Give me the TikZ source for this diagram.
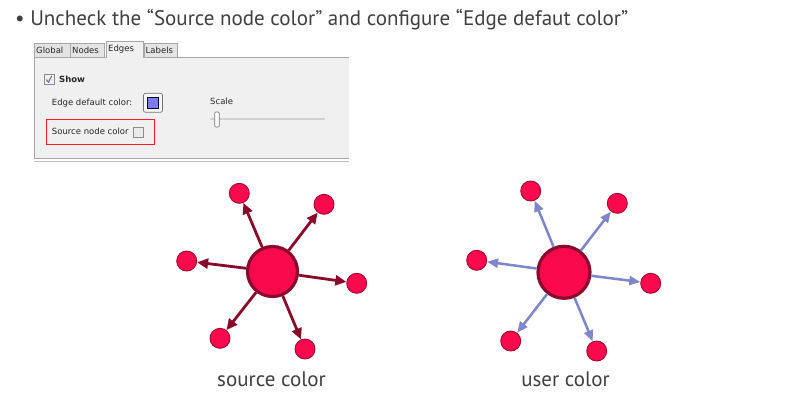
\documentclass[tikz,border=0pt]{standalone}
\usepackage{fontspec}
\setmainfont{PT Sans}
\newfontfamily\uifont{DejaVu Sans}
\usetikzlibrary{arrows.meta}
\definecolor{titlegray}{HTML}{404040}
\definecolor{nodefill}{HTML}{FA0A4C}
\definecolor{bigstroke}{HTML}{8C0A2D}
\definecolor{smallstroke}{HTML}{A00A32}
\definecolor{srcedge}{HTML}{8A0A2A}
\definecolor{useredge}{HTML}{7E86CE}
\definecolor{panelbg}{HTML}{F0F0F0}
\definecolor{tabbg}{HTML}{E4E4E4}
\definecolor{panelline}{HTML}{A8A8A8}
\definecolor{boxred}{HTML}{FF2020}
\definecolor{swatch}{HTML}{7A7EF0}
\tikzset{
  bignode/.style={circle, draw=bigstroke, line width=3.2pt, fill=nodefill, minimum size=50pt, inner sep=0pt},
  smallnode/.style={circle, draw=smallstroke, line width=0.9pt, fill=nodefill, minimum size=20pt, inner sep=0pt},
  srcarrow/.style={draw=srcedge, line width=2.8pt, -{Triangle[length=11pt,width=10pt]}},
  userarrow/.style={draw=useredge, line width=2.5pt, -{Triangle[length=11pt,width=9pt]}},
  tabstyle/.style={draw=panelline, fill=tabbg, line width=0.6pt},
  uitext/.style={font=\uifont\fontsize{8.5}{9}\selectfont, text=black!85, inner sep=0pt, anchor=west},
  caption/.style={font=\fontsize{21}{24}\selectfont, text=titlegray, inner sep=0pt}
}
\begin{document}
\begin{tikzpicture}[x=1pt, y=-1pt]
\useasboundingbox (0,0) rectangle (799,405);
\fill[white] (0,0) rectangle (799,405);

% title
\node[caption, anchor=west] (title) at (15,20) {\textbullet\ Uncheck the “Source node color” and configure “Edge defaut color”};

% panel
\fill[panelbg] (34,57) rectangle (349,158);
\draw[panelline, line width=0.6pt] (34,158) -- (34,57) -- (349,57);
\draw[panelline, line width=1pt] (34,158) -- (349,158);
\draw[black!25, line width=1pt] (34,161) -- (349,161);
\draw[tabstyle] (34,57) -- (34,43) -- (70,43) -- (70,57);
\draw[tabstyle] (70.5,57) -- (70.5,43) -- (104.5,43) -- (104.5,57);
\draw[tabstyle] (144,57) -- (144,43) -- (177,43) -- (177,57);
\filldraw[draw=panelline, fill=panelbg, line width=0.6pt] (106,58) -- (106,41.5) -- (143.5,41.5) -- (143.5,58);
\node[uitext] (tglobal) at (36,50.5) {Global};
\node[uitext] (tnodes) at (72,50.5) {Nodes};
\node[uitext] (tedges) at (108,49.5) {Edges};
\node[uitext] (tlabels) at (145.5,50.5) {Labels};

% show checkbox
\node[draw=black!45, fill=black!6, minimum size=10pt, inner sep=0pt, line width=0.6pt] (showbox) at (49,79.3) {};
\draw[black!55!blue!60, line width=1pt] (46.3,79.5) -- (48.5,82.3) -- (51.8,75.8);
\node[uitext, font=\uifont\bfseries\fontsize{8.5}{9}\selectfont] (showtxt) at (59,79.3) {Show};

% edge default color
\node[uitext] (edgetxt) at (51.7,103) {Edge default color:};
\node[draw=black!55, fill=black!4, rounded corners=2pt, minimum width=19pt, minimum height=19pt, inner sep=0pt, line width=0.7pt] (colbtn) at (153,102.8) {};
\node[draw=black!80!blue, fill=swatch, minimum size=11pt, inner sep=0pt, line width=0.7pt] (swatchbox) at (153,102.8) {};

% scale slider
\node[uitext] (scaletxt) at (210,101.5) {Scale};
\draw[black!18, line width=2pt] (210,118.5) -- (325,118.5);
\node[draw=black!55, fill=white, rounded corners=1pt, minimum width=4.5pt, minimum height=15pt, inner sep=0pt, line width=0.6pt] (knob) at (217,119.5) {};

% source node color
\node[draw=boxred, line width=0.9pt, minimum width=107.6pt, minimum height=25pt, inner sep=0pt] (redbox) at (100.5,131.5) {};
\node[uitext] (srctxt) at (51.7,131.5) {Source node color};
\node[draw=black!45, fill=black!8, minimum size=10pt, inner sep=0pt, line width=0.6pt] (srcbox) at (138,132.5) {};

% left graph
\node[bignode] (L) at (272.5,271.5) {};
\node[smallnode] (la) at (239.3,193.3) {};
\node[smallnode] (lb) at (324,204.3) {};
\node[smallnode] (lc) at (186.7,261) {};
\node[smallnode] (ld) at (356.7,283.3) {};
\node[smallnode] (le) at (220,338.3) {};
\node[smallnode] (lf) at (305,349) {};
\foreach \t in {la,lb,lc,ld,le,lf} \draw[srcarrow] (L) -- (\t);

% right graph
\node[bignode, minimum size=52pt] (R) at (564,272.3) {};
\node[smallnode] (ra) at (530.7,191) {};
\node[smallnode] (rb) at (617.3,203.3) {};
\node[smallnode] (rc) at (476.7,260.3) {};
\node[smallnode] (rd) at (650.7,283.3) {};
\node[smallnode] (re) at (510.7,341) {};
\node[smallnode] (rf) at (596.7,351) {};
\foreach \t in {ra,rb,rc,rd,re,rf} \draw[userarrow] (R) -- (\t);

% captions
\node[caption] (lcap) at (271.5,379) {source color};
\node[caption] (rcap) at (565.5,379) {user color};
\end{tikzpicture}
\end{document}
